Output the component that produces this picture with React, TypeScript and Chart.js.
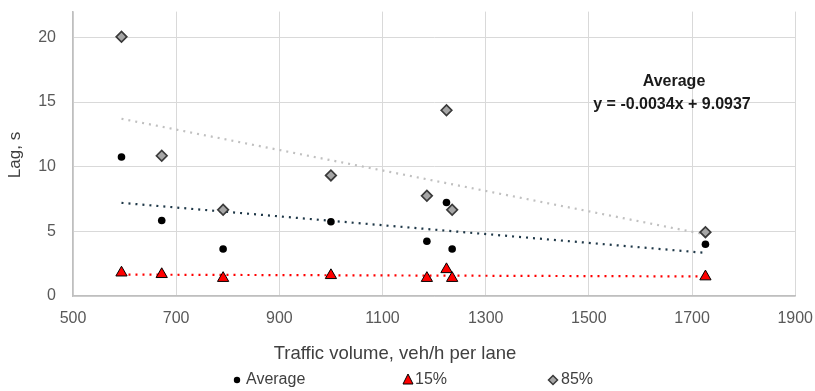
import React, { useEffect, useRef } from 'react';
import { Chart, registerables } from 'chart.js';

Chart.register(...registerables);

// Data
const volume = [594, 672, 791, 1000, 1186, 1224, 1235, 1726];
const lagAverage = [10.75, 5.84, 3.64, 5.74, 4.24, 7.23, 3.64, 4.0];
const lag15 = [1.8, 1.68, 1.38, 1.6, 1.38, 2.06, 1.38, 1.5];
const lag85 = [20.05, 10.85, 6.67, 9.33, 7.75, 14.37, 6.67, 4.94];
const seriesNames = ['Average', '15%', '85%'];
const xTicks = [500, 700, 900, 1100, 1300, 1500, 1700, 1900];
const yTicks = [0, 5, 10, 15, 20];
const annotationLines = ['Average', 'y = -0.0034x + 9.0937'];
const xTitle = 'Traffic volume, veh/h per lane';
const yTitle = 'Lag, s';

const FONT = "'Liberation Sans', Arial, sans-serif";

function pairs(xs: number[], ys: number[]) {
  return xs.map((x, i) => ({ x, y: ys[i] }));
}

// Linear least-squares trendline over the data's x range
function trend(xs: number[], ys: number[]) {
  const n = xs.length;
  const mx = xs.reduce((a, b) => a + b, 0) / n;
  const my = ys.reduce((a, b) => a + b, 0) / n;
  let sxy = 0, sxx = 0;
  for (let i = 0; i < n; i++) {
    sxy += (xs[i] - mx) * (ys[i] - my);
    sxx += (xs[i] - mx) * (xs[i] - mx);
  }
  const b = sxy / sxx;
  const a = my - b * mx;
  const x0 = Math.min(...xs);
  const x1 = Math.max(...xs);
  return [{ x: x0, y: a + b * x0 }, { x: x1, y: a + b * x1 }];
}

const COLORS = {
  avg: '#000000',
  avgTrend: '#1f3848',
  p15: '#ff0000',
  p15Trend: '#ff0000',
  p85Fill: '#a6a6a6',
  p85Border: '#3a3a3a',
  p85Trend: '#c0c0c0',
  grid: '#d9d9d9',
  tick: '#595959',
  title: '#404040',
};

const overlayPlugin = {
  id: 'overlay',
  afterDraw(chart: any) {
    const ctx = chart.ctx as CanvasRenderingContext2D;
    ctx.save();
    // Axis titles
    ctx.fillStyle = COLORS.title;
    ctx.textAlign = 'center';
    ctx.textBaseline = 'middle';
    ctx.font = `18.5px ${FONT}`;
    ctx.fillText(xTitle, 395, 354);
    ctx.save();
    ctx.translate(15, 155);
    ctx.rotate(-Math.PI / 2);
    ctx.font = `17px ${FONT}`;
    ctx.fillText(yTitle, 0, 0);
    ctx.restore();

    // Annotation (trendline equation)
    ctx.fillStyle = '#1a1a1a';
    ctx.font = `bold 16px ${FONT}`;
    ctx.fillText(annotationLines[0], 674, 82);
    ctx.fillText(annotationLines[1], 672, 105);

    // Legend
    const ly = 380;
    ctx.font = `16px ${FONT}`;
    ctx.textAlign = 'left';
    // Average: circle
    ctx.beginPath();
    ctx.arc(237, ly, 3.2, 0, Math.PI * 2);
    ctx.fillStyle = COLORS.avg;
    ctx.fill();
    ctx.fillStyle = COLORS.title;
    ctx.fillText(seriesNames[0], 246, ly);
    // 15%: triangle
    ctx.beginPath();
    ctx.moveTo(408, ly - 6);
    ctx.lineTo(413, ly + 4);
    ctx.lineTo(403, ly + 4);
    ctx.closePath();
    ctx.fillStyle = COLORS.p15;
    ctx.fill();
    ctx.strokeStyle = '#000';
    ctx.lineWidth = 1;
    ctx.stroke();
    ctx.fillStyle = COLORS.title;
    ctx.fillText(seriesNames[1], 415, ly);
    // 85%: diamond
    ctx.beginPath();
    ctx.moveTo(553, ly - 4.5);
    ctx.lineTo(557.5, ly);
    ctx.lineTo(553, ly + 4.5);
    ctx.lineTo(548.5, ly);
    ctx.closePath();
    ctx.fillStyle = COLORS.p85Fill;
    ctx.fill();
    ctx.strokeStyle = COLORS.p85Border;
    ctx.lineWidth = 1.5;
    ctx.stroke();
    ctx.fillStyle = COLORS.title;
    ctx.fillText(seriesNames[2], 561, ly);
    ctx.restore();
  },
};

export default function App() {
  const ref = useRef<HTMLCanvasElement | null>(null);

  useEffect(() => {
    document.body.style.margin = '0';
    const canvas = ref.current;
    if (!canvas) return;
    const dotted = [2, 5];
    const chart = new Chart(canvas, {
      type: 'scatter',
      data: {
        datasets: [
          {
            label: seriesNames[2] + ' trend',
            type: 'line',
            data: trend(volume, lag85),
            borderColor: COLORS.p85Trend,
            borderWidth: 2.2,
            borderDash: dotted,
            pointRadius: 0,
            fill: false,
            order: 5,
          },
          {
            label: seriesNames[0] + ' trend',
            type: 'line',
            data: trend(volume, lagAverage),
            borderColor: COLORS.avgTrend,
            borderWidth: 2.2,
            borderDash: dotted,
            pointRadius: 0,
            fill: false,
            order: 5,
          },
          {
            label: seriesNames[1] + ' trend',
            type: 'line',
            data: trend(volume, lag15),
            borderColor: COLORS.p15Trend,
            borderWidth: 2.2,
            borderDash: dotted,
            pointRadius: 0,
            fill: false,
            order: 5,
          },
          {
            label: seriesNames[0],
            data: pairs(volume, lagAverage),
            pointStyle: 'circle',
            pointRadius: 3.8,
            backgroundColor: COLORS.avg,
            borderColor: COLORS.avg,
            borderWidth: 0,
            order: 1,
          },
          {
            label: seriesNames[1],
            data: pairs(volume, lag15),
            pointStyle: 'triangle',
            pointRadius: 6.5,
            backgroundColor: COLORS.p15,
            borderColor: '#000000',
            borderWidth: 1,
            order: 1,
          },
          {
            label: seriesNames[2],
            data: pairs(volume, lag85),
            pointStyle: 'rectRot',
            pointRadius: 5.3,
            backgroundColor: COLORS.p85Fill,
            borderColor: COLORS.p85Border,
            borderWidth: 1.7,
            order: 1,
          },
        ],
      },
      options: {
        animation: false,
        responsive: false,
        maintainAspectRatio: false,
        layout: { padding: { top: 0, right: 0, left: 0, bottom: 0 } },
        plugins: {
          legend: { display: false },
          tooltip: { enabled: false },
        },
        scales: {
          x: {
            type: 'linear',
            min: xTicks[0],
            max: xTicks[xTicks.length - 1],
            afterBuildTicks: (scale: any) => {
              scale.ticks = xTicks.map((v) => ({ value: v }));
            },
            afterFit: (scale: any) => {
              scale.height = 95;
            },
            ticks: {
              color: COLORS.tick,
              font: { family: FONT, size: 16 },
              padding: 2,
              maxRotation: 0,
              callback: (v: any) => String(v),
            },
            grid: {
              color: COLORS.grid,
              drawTicks: true,
              tickLength: 11,
              tickColor: 'rgba(0,0,0,0)',
              lineWidth: 1,
            },
            border: { color: '#bfbfbf', width: 1.5 },
          },
          y: {
            type: 'linear',
            min: 0,
            max: 22,
            afterBuildTicks: (scale: any) => {
              scale.ticks = yTicks.map((v) => ({ value: v }));
            },
            afterFit: (scale: any) => {
              scale.width = 73;
            },
            ticks: {
              color: COLORS.tick,
              font: { family: FONT, size: 16 },
              padding: 2,
              callback: (v: any) => String(v),
            },
            grid: {
              color: COLORS.grid,
              drawTicks: true,
              tickLength: 15,
              tickColor: 'rgba(0,0,0,0)',
              lineWidth: 1,
            },
            border: { color: '#bfbfbf', width: 1.5 },
          },
        },
      },
      plugins: [overlayPlugin],
    } as any);
    return () => chart.destroy();
  }, []);

  return (
    <div style={{ width: 815, height: 391, background: '#fff' }}>
      <canvas ref={ref} width={815} height={391} style={{ display: 'block' }} />
    </div>
  );
}
